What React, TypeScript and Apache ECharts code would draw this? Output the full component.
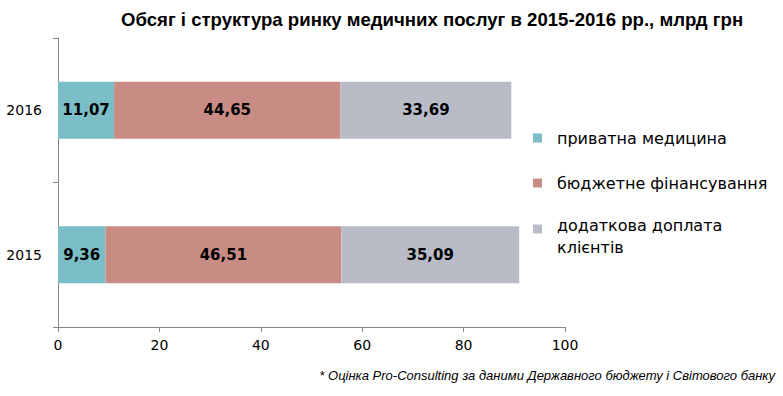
import React, { useEffect, useRef } from "react";
import * as echarts from "echarts";

const categories = ["2015", "2016"];
const seriesNames = ["приватна медицина", "бюджетне фінансування", "додаткова доплата клієнтів"];
const privateMed = [9.36, 11.07];
const budget = [46.51, 44.65];
const extraPay = [35.09, 33.69];
const xTicks = [0, 20, 40, 60, 80, 100];

const colors = ["#7bbec7", "#c88c85", "#b9bcc6"];

export default function App() {
  const ref = useRef<HTMLDivElement>(null);
  useEffect(() => {
    if (!ref.current) return;
    const chart = echarts.init(ref.current, null, { renderer: "svg" });
    const label = {
      show: true,
      position: "inside",
      color: "#000",
      fontFamily: "DejaVu Sans",
      fontWeight: "bold",
      fontSize: 15,
      formatter: (p: any) => Number(p.value).toFixed(2).replace(".", ","),
    };
    const mk = (name: string, data: number[], color: string) => ({
      name,
      type: "bar",
      stack: "total",
      barWidth: 57,
      data,
      itemStyle: { color },
      label,
    });
    const legendText = {
      fontFamily: "DejaVu Sans",
      fontSize: 16,
      color: "#000",
      lineHeight: 20,
      padding: [0, 0, 0, 10],
    };
    const legendBase = {
      orient: "vertical",
      left: 533,
      padding: 0,
      icon: "rect",
      itemWidth: 9,
      itemHeight: 9,
      selectedMode: false,
      textStyle: legendText,
    };
    const richLine = { fontFamily: "DejaVu Sans", fontSize: 16, color: "#000", lineHeight: 22 };
    chart.setOption({
      animation: false,
      title: [
        {
          text: "Обсяг і структура ринку медичних послуг в 2015-2016 рр., млрд грн",
          left: 121,
          top: 10,
          padding: 0,
          textStyle: {
            fontFamily: "Liberation Sans",
            fontWeight: "bold",
            fontSize: 18.6,
            color: "#000",
          },
        },
        {
          text: "* Оцінка Pro-Consulting за даними Державного бюджету і Світового банку",
          right: 8,
          top: 369,
          padding: 0,
          textStyle: {
            fontFamily: "Liberation Sans",
            fontStyle: "italic",
            fontWeight: "normal",
            fontSize: 13,
            color: "#000",
          },
        },
      ],
      legend: [
        { ...legendBase, top: 128, data: [seriesNames[0]] },
        { ...legendBase, top: 173, data: [seriesNames[1]] },
        {
          ...legendBase,
          top: 200,
          data: [seriesNames[2]],
          formatter: () => "{s| }\n{t|додаткова доплата}\n{t|клієнтів}",
          textStyle: {
            ...legendText,
            lineHeight: 22,
            rich: {
              s: { fontSize: 8, lineHeight: 14 },
              t: richLine,
            },
          },
        },
      ],
      grid: { left: 58, right: 218, top: 38, bottom: 69, containLabel: false },
      xAxis: {
        type: "value",
        min: xTicks[0],
        max: xTicks[xTicks.length - 1],
        interval: 20,
        axisLine: { show: true, lineStyle: { color: "#868686" } },
        axisTick: { show: true, length: 5, lineStyle: { color: "#868686" } },
        splitLine: { show: false },
        axisLabel: {
          color: "#000",
          fontFamily: "DejaVu Sans",
          fontSize: 14,
          margin: 11,
        },
      },
      yAxis: {
        type: "category",
        data: categories,
        axisLine: { show: true, lineStyle: { color: "#868686" } },
        axisTick: { show: true, length: 5, lineStyle: { color: "#868686" } },
        axisLabel: {
          color: "#000",
          fontFamily: "DejaVu Sans",
          fontSize: 14,
          margin: 16,
        },
      },
      series: [
        mk(seriesNames[0], privateMed, colors[0]),
        mk(seriesNames[1], budget, colors[1]),
        mk(seriesNames[2], extraPay, colors[2]),
      ],
    });
    return () => chart.dispose();
  }, []);
  return (
    <div
      ref={ref}
      style={{ position: "fixed", left: 0, top: 0, width: 783, height: 396, background: "#fff" }}
    />
  );
}
